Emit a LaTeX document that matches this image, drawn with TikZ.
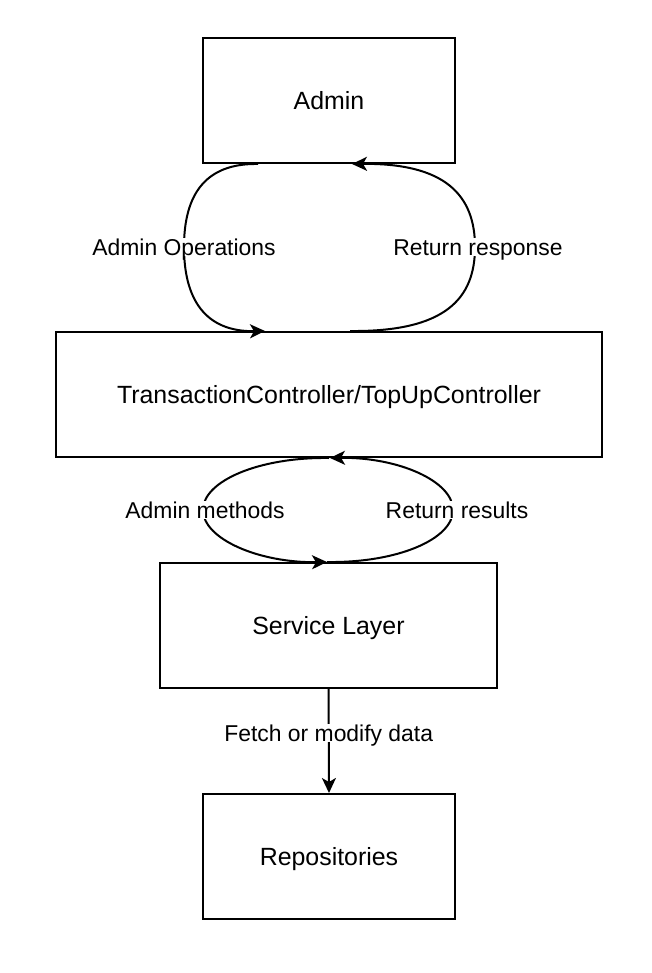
\documentclass[tikz,border=0pt]{standalone}
\usepackage{fontspec}
\setmainfont{Liberation Sans}
\usetikzlibrary{arrows.meta,calc}
\begin{document}
\begin{tikzpicture}[x=1pt,y=-1pt,
 box/.style={draw,line width=2pt,inner sep=0pt,text height=18.5pt,text depth=0pt,font=\fontsize{24.9}{30}\selectfont},
 lbl/.style={fill=white,inner sep=1pt,text height=16.5pt,text depth=0pt,font=\fontsize{22.9}{27}\selectfont},
 conn/.style={line width=2pt,-{Stealth[length=15pt,width=14pt,inset=4pt]}}]
\useasboundingbox (0,0) rectangle (651,973);
\node[box,minimum width=252pt,minimum height=125pt] (admin) at (329,100.5) {Admin};
\node[box,minimum width=546pt,minimum height=125pt] (ctrl) at (329,394.5) {TransactionController/TopUpController};
\node[box,minimum width=337pt,minimum height=125pt] (service) at (328.5,625.5) {Service Layer};
\node[box,minimum width=252pt,minimum height=125pt] (repo) at (329,856.5) {Repositories};
% loop 1
\draw[conn] ([xshift=-71pt]admin.south) .. controls (205,163) and (184,195) .. (184,247) node[lbl]{Admin Operations}
  .. controls (184,299) and (205,332) .. ([xshift=-64pt]ctrl.north);
\draw[conn] ([xshift=21pt]ctrl.north) .. controls (445,332) and (475,299) .. (475,247) node[lbl,xshift=3pt]{Return response}
  .. controls (475,195) and (445,163) .. ([xshift=23pt]admin.south);
% loop 2
\draw[conn] (ctrl.south) .. controls (259,457) and (203,481) .. (203,510) node[lbl,xshift=2pt]{Admin methods}
  .. controls (203,539) and (259,563) .. ([xshift=-1.5pt]service.north);
\draw[conn] ([xshift=-1.5pt]service.north) .. controls (398,563) and (453,539) .. (453,510) node[lbl,xshift=4pt]{Return results}
  .. controls (453,481) and (398,457) .. ([xshift=1pt]ctrl.south);
% straight
\draw[conn] (service.south) -- (repo.north) node[lbl,pos=0.425]{Fetch or modify data};
\end{tikzpicture}
\end{document}
